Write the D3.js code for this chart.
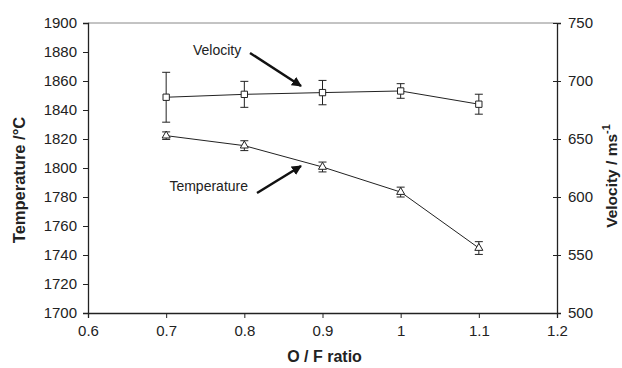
<!DOCTYPE html>
<html>
<head>
<meta charset="utf-8">
<script src="https://cdn.jsdelivr.net/npm/d3@7"></script>
<style>
  body { margin: 0; background: #fff; }
  text { font-family: "Liberation Sans", Arial, sans-serif; fill: #222; }
</style>
</head>
<body>
<div id="chart"></div>
<script>
// O/F ratio values
var ratios = [0.7, 0.8, 0.9, 1.0, 1.1];
// velocity (m/s) with error, plotted on the right axis
var velocity = [686, 688.5, 690, 691.4, 680];
var velocityErr = [21.5, 11.2, 10.5, 6.3, 8.6];
// temperature (C) with error, plotted on the left axis
var temperature = [1822.3, 1815.4, 1800.7, 1783.4, 1744.8];
var temperatureErr = [2.6, 3.4, 3.4, 3.4, 4.4];

var xTicks = [0.6, 0.7, 0.8, 0.9, 1.0, 1.1, 1.2];
var tempTicks = d3.range(1700, 1901, 20);
var velTicks = [500, 550, 600, 650, 700, 750];

var margin = {top: 23, right: 65, bottom: 55, left: 88},
  width = 622 - margin.left - margin.right,
  height = 368 - margin.top - margin.bottom;

var svg = d3.select("#chart").append("svg")
  .attr("width", 622)
  .attr("height", 368);

var g = svg.append("g")
  .attr("transform", "translate(" + margin.left + "," + margin.top + ")");

var x = d3.scaleLinear().domain([0.6, 1.2]).range([0, width]);
var yT = d3.scaleLinear().domain([1700, 1900]).range([height, 0]);
var yV = d3.scaleLinear().domain([500, 750]).range([height, 0]);

// top border
g.append("line")
  .attr("x1", 0).attr("x2", width)
  .attr("y1", 0).attr("y2", 0)
  .attr("stroke", "#888").attr("stroke-width", 1);

// x axis
var xAxis = g.append("g")
  .attr("transform", "translate(0," + height + ")")
  .call(d3.axisBottom(x).tickValues(xTicks).tickSize(5).tickPadding(7)
    .tickFormat(function(d){ return String(+d.toFixed(1)); }));

// left axis
var yAxisL = g.append("g")
  .call(d3.axisLeft(yT).tickValues(tempTicks).tickSize(5).tickPadding(6)
    .tickFormat(d3.format("d")));

// right axis, ticks cross the line
var yAxisR = g.append("g")
  .attr("transform", "translate(" + width + ",0)")
  .call(d3.axisRight(yV).tickValues(velTicks).tickSize(4).tickPadding(7)
    .tickFormat(d3.format("d")));
yAxisR.selectAll(".tick line").attr("x1", -4);

[xAxis, yAxisL, yAxisR].forEach(function(a){
  a.select(".domain").attr("stroke", "#222").attr("stroke-width", 1.3);
  a.selectAll(".tick line").attr("stroke", "#222");
  a.selectAll("text").attr("font-size", 15).attr("fill", "#222")
    .style("font-family", "Liberation Sans, Arial, sans-serif");
});

var velData = ratios.map(function(r, i){ return {x: r, y: velocity[i], e: velocityErr[i]}; });
var tempData = ratios.map(function(r, i){ return {x: r, y: temperature[i], e: temperatureErr[i]}; });

// draws a series with its error bars
function drawSeries(data, yScale, marker) {
  g.append("path")
    .datum(data)
    .attr("fill", "none")
    .attr("stroke", "#222")
    .attr("stroke-width", 1)
    .attr("d", d3.line().x(function(d){ return x(d.x); }).y(function(d){ return yScale(d.y); }));

  var eb = g.append("g").selectAll("g").data(data).enter().append("g")
    .attr("stroke", "#222").attr("stroke-width", 1);
  eb.append("line")
    .attr("x1", function(d){ return x(d.x); }).attr("x2", function(d){ return x(d.x); })
    .attr("y1", function(d){ return yScale(d.y + d.e); })
    .attr("y2", function(d){ return yScale(d.y - d.e); });
  eb.append("line")
    .attr("x1", function(d){ return x(d.x) - 4; }).attr("x2", function(d){ return x(d.x) + 4; })
    .attr("y1", function(d){ return yScale(d.y + d.e); })
    .attr("y2", function(d){ return yScale(d.y + d.e); });
  eb.append("line")
    .attr("x1", function(d){ return x(d.x) - 4; }).attr("x2", function(d){ return x(d.x) + 4; })
    .attr("y1", function(d){ return yScale(d.y - d.e); })
    .attr("y2", function(d){ return yScale(d.y - d.e); });

  var sym = marker === "square" ? d3.symbolSquare : d3.symbolTriangle;
  g.append("g").selectAll("path").data(data).enter().append("path")
    .attr("transform", function(d){ return "translate(" + x(d.x) + "," + yScale(d.y) + ")"; })
    .attr("d", d3.symbol().type(sym).size(marker === "square" ? 40 : 28))
    .attr("fill", "#fff")
    .attr("stroke", "#222")
    .attr("stroke-width", 1);
}

drawSeries(velData, yV, "square");
drawSeries(tempData, yT, "triangle");

// arrow annotations
svg.append("defs").append("marker")
  .attr("id", "arrow")
  .attr("viewBox", "0 0 10 10")
  .attr("refX", 9).attr("refY", 5)
  .attr("markerWidth", 4).attr("markerHeight", 4)
  .attr("orient", "auto")
  .append("path").attr("d", "M0,0 L10,5 L0,10 z").attr("fill", "#111");

svg.append("line")
  .attr("x1", 250).attr("y1", 53).attr("x2", 301).attr("y2", 86)
  .attr("stroke", "#111").attr("stroke-width", 2.5)
  .attr("marker-end", "url(#arrow)");
svg.append("line")
  .attr("x1", 257).attr("y1", 193).attr("x2", 301).attr("y2", 166)
  .attr("stroke", "#111").attr("stroke-width", 2.5)
  .attr("marker-end", "url(#arrow)");

svg.append("text")
  .attr("x", 193).attr("y", 55)
  .attr("font-size", 14)
  .text("Velocity");
svg.append("text")
  .attr("x", 248).attr("y", 191)
  .attr("text-anchor", "end")
  .attr("font-size", 14)
  .text("Temperature");

// axis titles
svg.append("text")
  .attr("transform", "translate(" + (margin.left + width / 2 + 2) + ",362)")
  .attr("text-anchor", "middle")
  .attr("font-size", 16).attr("font-weight", "bold")
  .text("O / F ratio");

svg.append("text")
  .attr("transform", "translate(25,180) rotate(-90)")
  .attr("text-anchor", "middle")
  .attr("font-size", 16.5).attr("font-weight", "bold")
  .text("Temperature /°C");

var rt = svg.append("text")
  .attr("transform", "translate(617,176) rotate(-90)")
  .attr("text-anchor", "middle")
  .attr("font-size", 15.5).attr("font-weight", "bold");
rt.append("tspan").text("Velocity / ms");
rt.append("tspan").attr("dy", -7).attr("font-size", 11).text("-1");
</script>
</body>
</html>
